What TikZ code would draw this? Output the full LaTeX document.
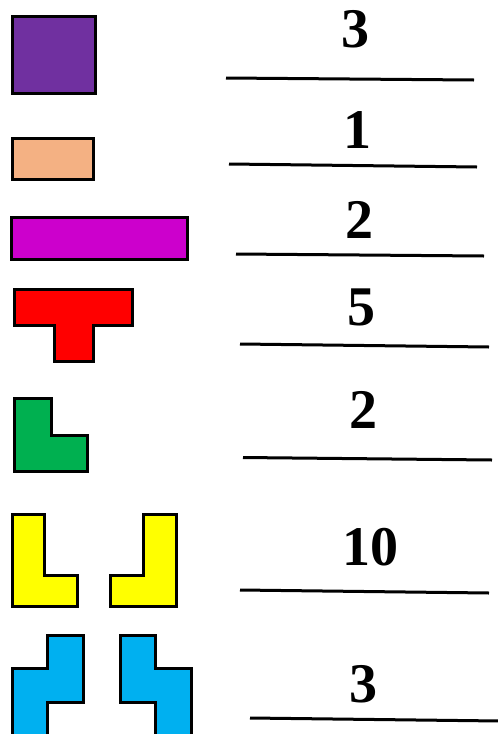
\documentclass[tikz,border=0pt]{standalone}
\usepackage{fontspec}
\setmainfont{Liberation Serif}
\definecolor{cpurple}{HTML}{7030A0}
\definecolor{cpeach}{HTML}{F4B183}
\definecolor{cmagenta}{HTML}{CC00CC}
\definecolor{cred}{HTML}{FF0000}
\definecolor{cgreen}{HTML}{00B050}
\definecolor{cyellow}{HTML}{FFFF00}
\definecolor{cblue}{HTML}{00B0F0}
\begin{document}
\begin{tikzpicture}[x=1pt,y=-1pt,
  piece/.style={draw=black,line width=3pt,line join=miter},
  num/.style={font=\fontsize{56}{60}\selectfont\bfseries,anchor=base,inner sep=0pt},
  ansline/.style={draw=black,line width=3pt}]
\useasboundingbox (0,0) rectangle (498,734);
\clip (0,0) rectangle (498,734);
% pieces
\path[piece,fill=cpurple] (12,16) rectangle (95,93);
\path[piece,fill=cpeach] (12,138) rectangle (93,179);
\path[piece,fill=cmagenta] (11,217) rectangle (187,259);
\path[piece,fill=cred] (14,289) -- (132,289) -- (132,325) -- (93,325) -- (93,361) -- (54,361) -- (54,325) -- (14,325) -- cycle;
\path[piece,fill=cgreen] (14,398) -- (51,398) -- (51,435) -- (87,435) -- (87,471) -- (14,471) -- cycle;
\path[piece,fill=cyellow] (12,514) -- (44,514) -- (44,575) -- (77,575) -- (77,606) -- (12,606) -- cycle;
\path[piece,fill=cyellow] (143,514) -- (176,514) -- (176,606) -- (110,606) -- (110,575) -- (143,575) -- cycle;
\path[piece,fill=cblue] (47,635) -- (83,635) -- (83,702) -- (47,702) -- (47,745) -- (12,745) -- (12,668) -- (47,668) -- cycle;
\path[piece,fill=cblue] (120,635) -- (155,635) -- (155,668) -- (191,668) -- (191,745) -- (155,745) -- (155,702) -- (120,702) -- cycle;
% numbers
\node[num] (n1) at (355,47) {3};
\node[num] (n2) at (357,148) {1};
\node[num] (n3) at (359,238) {2};
\node[num] (n4) at (361,325) {5};
\node[num] (n5) at (363,428) {2};
\node[num] (n6) at (370,565) {10};
\node[num] (n7) at (363,702) {3};
% answer lines
\coordinate (a1) at (226,78);  \coordinate (b1) at (474,80);
\coordinate (a2) at (229,164); \coordinate (b2) at (477,167);
\coordinate (a3) at (236,254); \coordinate (b3) at (484,256);
\coordinate (a4) at (240,344); \coordinate (b4) at (489,347);
\coordinate (a5) at (243,457.5); \coordinate (b5) at (492,460);
\coordinate (a6) at (240,590); \coordinate (b6) at (489,593);
\coordinate (a7) at (250,718); \coordinate (b7) at (500,721);
\foreach \i in {1,...,7} {\draw[ansline] (a\i) -- (b\i);}
\end{tikzpicture}
\end{document}
